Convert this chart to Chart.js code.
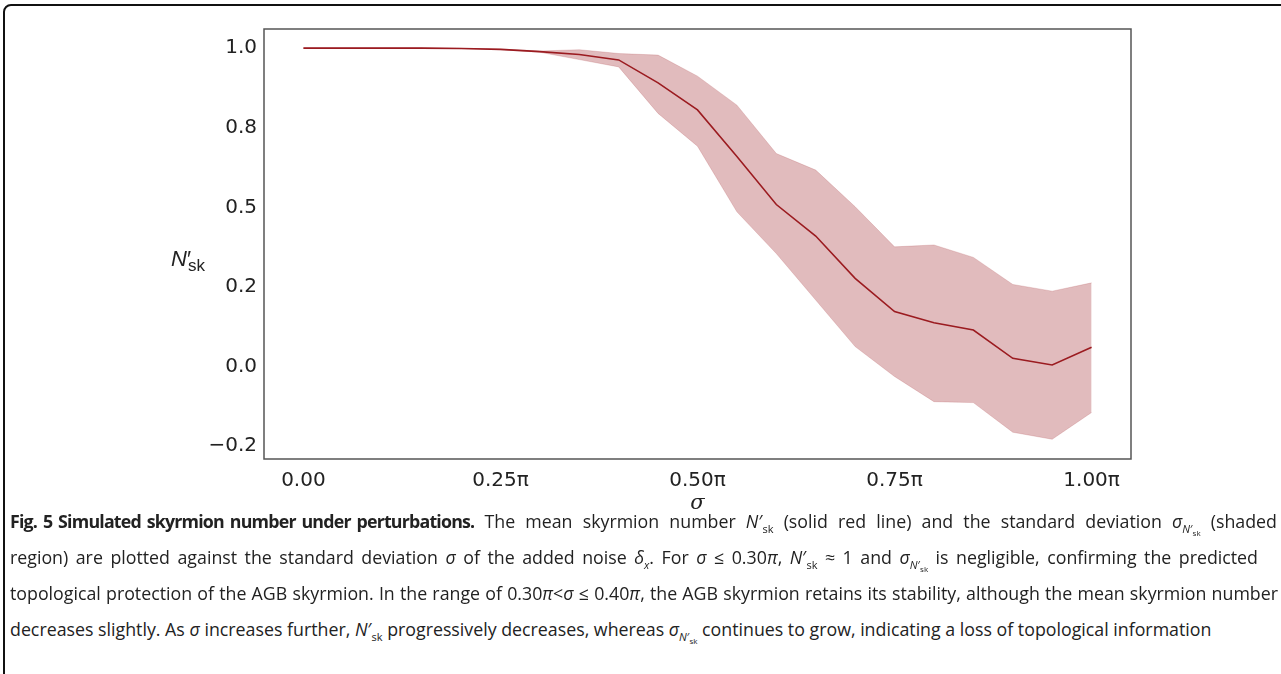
<!DOCTYPE html>
<html>
<head>
<meta charset="utf-8">
<script src="https://cdn.jsdelivr.net/npm/chart.js@4.4.1/dist/chart.umd.min.js"></script>
<style>
  body { margin: 0; background: #fff; width: 1281px; height: 674px; overflow: hidden; position: relative; }
  #frame { position: absolute; left: 3px; top: 4px; width: 1300px; height: 700px; border: 2px solid #111; border-radius: 8px; }
  #wrap { position: absolute; left: 0; top: 0; width: 1281px; height: 520px; }
  #ylab { position: absolute; left: 171px; top: 246px; font-family: "Liberation Sans", Arial, sans-serif; font-size: 22px; color: #222; }
  #ylab i { font-style: italic; }
  #ylab sub { font-size: 17px; vertical-align: -5px; margin-left: -3px; }
  .cap { position: absolute; left: 10px; white-space: nowrap; font-family: "Open Sans", sans-serif; font-size: 17.8px; color: #222; text-align: justify; text-align-last: justify; }
  .cap b { font-weight: 700; letter-spacing: -0.8px; word-spacing: 2px; display: inline-block; }
  .cap i { font-style: italic; }
  .cap sub { font-size: 11px; }
  .cap sub sub { font-size: 8px; }
</style>
</head>
<body>
<div id="frame"></div>
<div id="wrap"><canvas id="myChart"></canvas></div>
<div id="ylab"><i>N</i>′<sub>sk</sub></div>

<div class="cap" style="top:509px; width:1267px"><b>Fig. 5 Simulated skyrmion number under perturbations.</b> The mean skyrmion number <i>N</i>′<sub>sk</sub> (solid red line) and the standard deviation <i>σ</i><sub><i>N</i>′<sub>sk</sub></sub> (shaded</div>
<div class="cap" style="top:545px; width:1248px">region) are plotted against the standard deviation <i>σ</i> of the added noise <i>δ</i><sub><i>x</i></sub>. For <i>σ</i> ≤ 0.30<i>π</i>, <i>N</i>′<sub>sk</sub> ≈ 1 and <i>σ</i><sub><i>N</i>′<sub>sk</sub></sub> is negligible, confirming the predicted</div>
<div class="cap" style="top:581px; width:1268px">topological protection of the AGB skyrmion. In the range of 0.30<i>π</i>&lt;<i>σ</i> ≤ 0.40<i>π</i>, the AGB skyrmion retains its stability, although the mean skyrmion number</div>
<div class="cap" style="top:617px; text-align-last: left">decreases slightly. As <i>σ</i> increases further, <i>N</i>′<sub>sk</sub> progressively decreases, whereas <i>σ</i><sub><i>N</i>′<sub>sk</sub></sub> continues to grow, indicating a loss of topological information</div>

<script>
// sigma in units of pi
const sigma = [0, 0.05, 0.1, 0.15, 0.2, 0.25, 0.3, 0.35, 0.4, 0.45, 0.5, 0.55, 0.6, 0.65, 0.7, 0.75, 0.8, 0.85, 0.9, 0.95, 1.0];
const meanN = [1.0, 1.0, 1.0, 1.0, 0.999, 0.996, 0.989, 0.98, 0.963, 0.891, 0.806, 0.66, 0.509, 0.41, 0.277, 0.173, 0.138, 0.115, 0.026, 0.005, 0.061];
const upperN = [1.0, 1.0, 1.0, 1.0, 0.999, 0.997, 0.991, 0.995, 0.983, 0.978, 0.912, 0.821, 0.669, 0.617, 0.502, 0.376, 0.382, 0.343, 0.258, 0.237, 0.263];
const lowerN = [1.0, 1.0, 1.0, 1.0, 0.999, 0.995, 0.987, 0.964, 0.941, 0.795, 0.692, 0.486, 0.355, 0.209, 0.063, -0.031, -0.11, -0.113, -0.206, -0.228, -0.144];

const xTickValues = [0, 0.25, 0.5, 0.75, 1.0];
const xTickLabels = ['0.00', '0.25π', '0.50π', '0.75π', '1.00π'];
const yTickValues = [-0.25, 0, 0.25, 0.5, 0.75, 1.0];
const yTickLabels = ['−0.2', '0.0', '0.2', '0.5', '0.8', '1.0'];

const pts = arr => arr.map((v, i) => ({ x: sigma[i], y: v }));
const bandColor = 'rgba(170, 60, 65, 0.35)';

// box around the plot area
const frame = {
  id: 'frame',
  afterDraw(chart) {
    const { ctx, chartArea: a } = chart;
    ctx.save();
    ctx.strokeStyle = '#555';
    ctx.lineWidth = 1.5;
    ctx.strokeRect(a.left, a.top, a.right - a.left, a.bottom - a.top);
    ctx.restore();
  }
};

const ctx = document.getElementById('myChart').getContext('2d');

new Chart(ctx, {
  type: 'line',
  data: {
    datasets: [
      {
        data: pts(meanN),
        borderColor: '#9b1b20',
        borderWidth: 1.6,
        pointRadius: 0,
        fill: false,
        order: 0,
      },
      {
        data: pts(upperN),
        borderColor: 'rgba(170, 60, 65, 0.25)',
        borderWidth: 0.8,
        backgroundColor: bandColor,
        pointRadius: 0,
        fill: '+1',
        order: 1,
      },
      {
        data: pts(lowerN),
        borderColor: 'rgba(170, 60, 65, 0.25)',
        borderWidth: 0.8,
        pointRadius: 0,
        fill: false,
        order: 2,
      },
    ]
  },
  options: {
    responsive: true,
    maintainAspectRatio: false,
    animation: false,
    layout: { padding: { left: 0, top: 29, right: 150, bottom: 0 } },
    plugins: {
      legend: { display: false },
      tooltip: { enabled: false }
    },
    scales: {
      x: {
        type: 'linear',
        min: -0.05,
        max: 1.05,
        afterFit: s => { s.height = 61; },
        afterBuildTicks: s => { s.ticks = xTickValues.map(v => ({ value: v })); },
        grid: { display: false, drawTicks: true, tickLength: 4, tickColor: '#555' },
        border: { display: false },
        ticks: {
          color: '#222',
          padding: 6,
          maxRotation: 0,
          font: { family: 'DejaVu Sans', size: 20 },
          callback: v => xTickLabels[xTickValues.indexOf(v)]
        },
        title: {
          display: true,
          text: 'σ',
          color: '#222',
          font: { family: 'DejaVu Serif', style: 'italic', size: 21 },
          padding: { top: 0, bottom: 4 }
        }
      },
      y: {
        min: -0.29,
        max: 1.06,
        afterFit: s => { s.width = 264; },
        afterBuildTicks: s => { s.ticks = yTickValues.map(v => ({ value: v })); },
        grid: { display: false, drawTicks: true, tickLength: 4, tickColor: '#555' },
        border: { display: false },
        ticks: {
          color: '#222',
          padding: 3,
          font: { family: 'DejaVu Sans', size: 20 },
          callback: v => yTickLabels[yTickValues.indexOf(v)]
        }
      }
    }
  },
  plugins: [frame]
});
</script>
</body>
</html>
